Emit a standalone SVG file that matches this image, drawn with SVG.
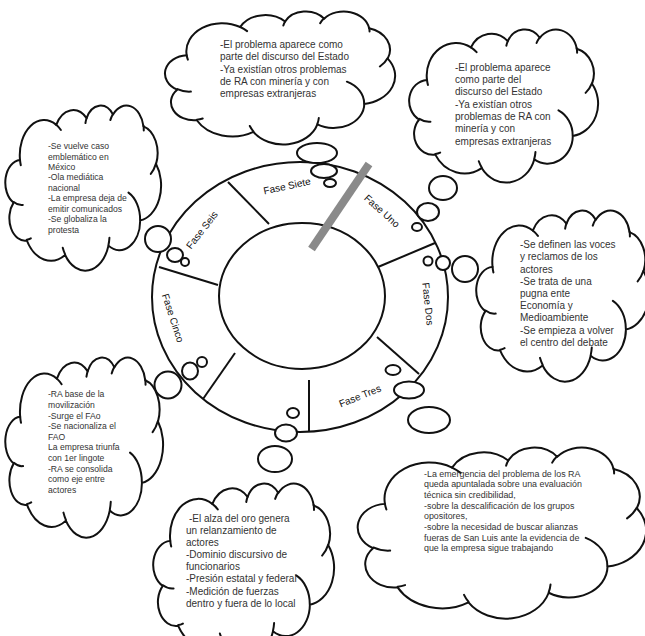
<svg xmlns="http://www.w3.org/2000/svg" xmlns:xlink="http://www.w3.org/1999/xlink" width="645" height="636" viewBox="0 0 645 636">
<style>
.co{fill:#fff;stroke:#111;stroke-width:2;vector-effect:non-scaling-stroke;stroke-linejoin:round}
.cc{fill:none;stroke:#111;stroke-width:2;vector-effect:non-scaling-stroke;stroke-linecap:round}
.ring{fill:none;stroke:#111;stroke-width:2}
.div{stroke:#111;stroke-width:2}
.bub{fill:#fff;stroke:#111;stroke-width:2}
.t{font-family:"Liberation Sans",Arial,sans-serif;font-size:10px;fill:#333}
.ts{font-family:"Liberation Sans",Arial,sans-serif;font-size:8.6px;fill:#333}
.tm{font-family:"Liberation Sans",Arial,sans-serif;font-size:8.9px;fill:#333}
.lbl{font-family:"Liberation Sans",Arial,sans-serif;font-size:10px;fill:#111;text-anchor:middle}
</style>
<defs>
<g id="cloud">
<path class="co" d="M9.03 33.26A15.63 21.27 0 0 1 32.42 12.04A12.34 16.82 0 0 1 51.99 7.95A10.1 13.76 0 0 1 69.06 5.75A11.24 15.27 0 0 1 88.7 12.92A12.34 16.84 0 0 1 96.81 35.8A15.68 21.34 0 0 1 86.59 69.93A13.39 18.21 0 0 1 66.1 85.23A15.63 21.33 0 0 1 38.15 90.9A17.87 24.41 0 0 1 13.44 82.12A10.09 13.7 0 0 1 4.89 59.15A10.06 13.76 0 0 1 9.03 33.26Z"/>
<path class="cc" d="M10.86 60.59A10.06 13.76 0 0 1 5 58.75M16.04 80.78A10.09 13.7 0 0 1 13.47 81.67M38.14 90.49A15.63 21.33 0 0 1 36.6 86.46M66.73 80.44A15.63 21.33 0 0 1 66.11 84.86M79 53.13A13.39 18.21 0 0 1 86.53 69.65M96.75 35.54A12.34 16.84 0 0 1 93.4 41.74M88.71 12.56A11.24 15.27 0 0 1 88.89 15.48M67.31 9.15A11.24 15.27 0 0 1 69.03 5.41M51.25 10.93A10.1 13.76 0 0 1 52.08 7.71M32.41 12.02A15.63 21.27 0 0 1 35.42 15.14M9.55 36.55A15.63 21.27 0 0 1 9.03 33.26"/>
</g>
</defs>

<g id="ring">
<ellipse class="ring" cx="300" cy="297" rx="148" ry="135"/>
<ellipse class="ring" cx="302" cy="296" rx="83" ry="73"/>
<line class="div" x1="228" y1="182" x2="269" y2="224"/>
<line class="div" x1="378" y1="267" x2="435" y2="243"/>
<line class="div" x1="159" y1="267" x2="218" y2="285"/>
<line class="div" x1="235" y1="353" x2="203" y2="399"/>
<line class="div" x1="309" y1="380" x2="309" y2="431"/>
<line class="div" x1="377" y1="337" x2="419" y2="374"/>
<line x1="369" y1="164" x2="311.5" y2="249" stroke="#8a8a8a" stroke-width="8"/>
<text class="lbl" transform="translate(287 186) rotate(-12)" y="3.5">Fase Siete</text>
<text class="lbl" transform="translate(382 211) rotate(42)" y="3.5">Fase Uno</text>
<text class="lbl" transform="translate(202 230) rotate(-52)" y="3.5">Fase Seis</text>
<text class="lbl" transform="translate(173 318) rotate(72)" y="3.5">Fase Cinco</text>
<text class="lbl" transform="translate(428 304) rotate(84)" y="3.5">Fase Dos</text>
<text class="lbl" transform="translate(360 396) rotate(-22)" y="3.5">Fase Tres</text>
</g>

<g id="connectors">
<ellipse class="bub" cx="317" cy="153" rx="20" ry="10"/>
<ellipse class="bub" cx="324" cy="171" rx="13" ry="7"/>
<ellipse class="bub" cx="330" cy="183" rx="6" ry="4"/>
<ellipse class="bub" cx="443" cy="188" rx="14" ry="12"/>
<ellipse class="bub" cx="428" cy="212" rx="11" ry="9"/>
<ellipse class="bub" cx="417" cy="227" rx="5" ry="4"/>
<ellipse class="bub" cx="158" cy="239" rx="13" ry="13"/>
<ellipse class="bub" cx="175" cy="255" rx="8" ry="7"/>
<ellipse class="bub" cx="185" cy="262" rx="4" ry="4"/>
<ellipse class="bub" cx="428" cy="261" rx="4.5" ry="4.5"/>
<ellipse class="bub" cx="443" cy="263" rx="7" ry="7"/>
<ellipse class="bub" cx="465" cy="269" rx="13" ry="13"/>
<ellipse class="bub" cx="393" cy="370" rx="7.5" ry="5"/>
<ellipse class="bub" cx="409" cy="390" rx="15" ry="8.5"/>
<ellipse class="bub" cx="429" cy="420" rx="21" ry="13"/>
<ellipse class="bub" cx="293" cy="413" rx="6" ry="5"/>
<ellipse class="bub" cx="286" cy="433" rx="11" ry="8.5"/>
<ellipse class="bub" cx="275" cy="459" rx="17" ry="13"/>
<ellipse class="bub" cx="202" cy="362" rx="5" ry="5"/>
<ellipse class="bub" cx="190" cy="371" rx="8" ry="8.5"/>
<ellipse class="bub" cx="168" cy="385" rx="13.5" ry="13.5"/>
</g>

<g id="cloud-siete">
<use xlink:href="#cloud" transform="translate(166 11) scale(2.29 1.33)"/>
<text class="t"><tspan x="220" y="48">-El problema aparece como</tspan><tspan x="220" y="60.3">parte del discurso del Estado</tspan><tspan x="220" y="72.6">-Ya existían otros problemas</tspan><tspan x="220" y="84.9">de RA con minería y con</tspan><tspan x="220" y="97.2">empresas extranjeras</tspan></text>
</g>

<g id="cloud-uno">
<use xlink:href="#cloud" transform="translate(410 29) scale(1.88 1.53)"/>
<text class="t"><tspan x="455" y="70.6">-El problema aparece</tspan><tspan x="455" y="83">como parte del</tspan><tspan x="455" y="95.3">discurso del Estado</tspan><tspan x="455" y="107.7">-Ya existían otros</tspan><tspan x="455" y="120">problemas de RA con</tspan><tspan x="455" y="132.4">minería y con</tspan><tspan x="455" y="144.7">empresas extranjeras</tspan></text>
</g>

<g id="cloud-seis">
<use xlink:href="#cloud" transform="translate(6 105) scale(1.55 1.65)"/>
<text class="ts"><tspan x="48" y="149">-Se vuelve caso</tspan><tspan x="48" y="159.5">emblemático en</tspan><tspan x="48" y="170">México</tspan><tspan x="48" y="180.4">-Ola mediática</tspan><tspan x="48" y="190.9">nacional</tspan><tspan x="48" y="201.4">-La empresa deja de</tspan><tspan x="48" y="211.8">emitir comunicados</tspan><tspan x="48" y="222.3">-Se globaliza la</tspan><tspan x="48" y="232.8">protesta</tspan></text>
</g>

<g id="cloud-dos">
<use xlink:href="#cloud" transform="translate(477 210) scale(1.72 1.71)"/>
<text class="t"><tspan x="520" y="248">-Se definen las voces</tspan><tspan x="520" y="260.2">y reclamos de los</tspan><tspan x="520" y="272.5">actores</tspan><tspan x="520" y="284.7">-Se trata de una</tspan><tspan x="520" y="297">pugna ente</tspan><tspan x="520" y="309.2">Economía y</tspan><tspan x="520" y="321.4">Medioambiente</tspan><tspan x="520" y="333.7">-Se empieza a volver</tspan><tspan x="520" y="345.9">el centro del debate</tspan></text>
</g>

<g id="cloud-cinco">
<use xlink:href="#cloud" transform="translate(6 357) scale(1.57 1.8)"/>
<text class="ts"><tspan x="48" y="397.3">-RA base de la</tspan><tspan x="48" y="407.9">movilización</tspan><tspan x="48" y="418.5">-Surge el FAo</tspan><tspan x="48" y="429.1">-Se nacionaliza el</tspan><tspan x="48" y="439.7">FAO</tspan><tspan x="48" y="450.3">La empresa triunfa</tspan><tspan x="48" y="460.9">con 1er lingote</tspan><tspan x="48" y="471.5">-RA se consolida</tspan><tspan x="48" y="482.1">como eje entre</tspan><tspan x="48" y="492.7">actores</tspan></text>
</g>

<g id="cloud-cuatro">
<use xlink:href="#cloud" transform="translate(154 483) scale(1.8 1.74)"/>
<text class="t"><tspan x="189" y="522">-El alza del oro genera</tspan><tspan x="186" y="534.1">un relanzamiento de</tspan><tspan x="186" y="546.2">actores</tspan><tspan x="186" y="558.2">-Dominio discursivo de</tspan><tspan x="186" y="570.3">funcionarios</tspan><tspan x="186" y="582.4">-Presión estatal y federal</tspan><tspan x="186" y="594.5">-Medición de fuerzas</tspan><tspan x="186" y="606.6">dentro y fuera de lo local</tspan></text>
</g>

<g id="cloud-tres">
<use xlink:href="#cloud" transform="translate(359 447) scale(2.87 1.71)"/>
<text class="tm"><tspan x="424" y="476.8">-La emergencia del problema de los RA</tspan><tspan x="424" y="487.4">queda apuntalada sobre una evaluación</tspan><tspan x="424" y="498.1">técnica sin credibilidad,</tspan><tspan x="424" y="508.7">-sobre la descalificación de los grupos</tspan><tspan x="424" y="519.3">opositores,</tspan><tspan x="424" y="530">-sobre la necesidad de buscar alianzas</tspan><tspan x="424" y="540.6">fueras de San Luis ante la evidencia de</tspan><tspan x="424" y="551.2">que la empresa sigue trabajando</tspan></text>
</g>
</svg>
